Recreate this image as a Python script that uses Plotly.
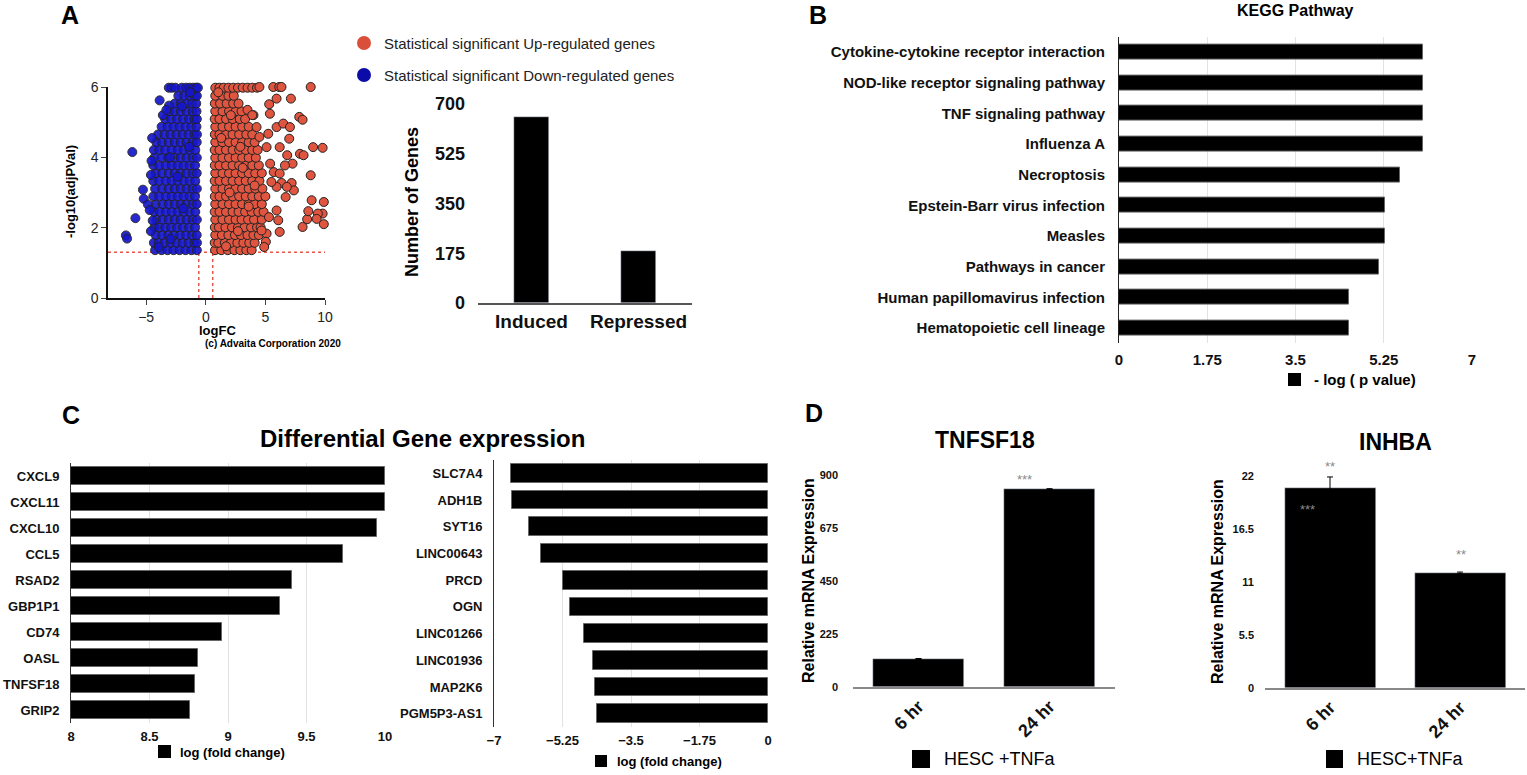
import plotly.graph_objects as go

W, H = 1527, 775
FONT = "Liberation Sans, Arial, sans-serif"

# ---------------- Panel A: volcano plot ----------------
# rows of points: (-log10 adjPVal, [logFC, ...])
blue_rows = [
    (1.36, [-4.25, -3.7, -3.2, -2.7, -2.2, -1.7, -1.2, -0.75]),
    (1.57, [-4.35, -3.95, -3.45, -2.95, -2.45, -1.95, -1.45, -0.95, -0.74]),
    (1.79, [-4.2, -3.65, -3.15, -2.65, -2.15, -1.65, -1.15, -0.76]),
    (2.01, [-4.3, -3.9, -3.4, -2.9, -2.4, -1.9, -1.4, -0.9]),
    (2.23, [-4.15, -3.6, -3.1, -2.6, -2.1, -1.6, -1.1, -0.75]),
    (2.45, [-4.35, -3.85, -3.35, -2.85, -2.35, -1.85, -1.35, -0.88]),
    (2.67, [-4.2, -3.6, -3.1, -2.6, -2.1, -1.6, -1.1, -0.76]),
    (2.89, [-4.4, -3.9, -3.35, -2.85, -2.35, -1.85, -1.35, -0.9]),
    (3.11, [-4.25, -3.65, -3.1, -2.6, -2.1, -1.6, -1.1, -0.75]),
    (3.33, [-4.4, -3.9, -3.35, -2.85, -2.35, -1.85, -1.35, -0.88]),
    (3.55, [-4.2, -3.65, -3.1, -2.6, -2.1, -1.6, -1.1, -0.76]),
    (3.77, [-4.4, -3.9, -3.35, -2.85, -2.35, -1.85, -1.35, -0.9]),
    (3.99, [-4.3, -3.7, -3.15, -2.6, -2.1, -1.6, -1.1, -0.75]),
    (4.21, [-4.35, -3.9, -3.4, -2.85, -2.35, -1.85, -1.35, -0.88]),
    (4.43, [-4.15, -3.65, -3.1, -2.6, -2.1, -1.6, -1.1, -0.76]),
    (4.65, [-4.0, -3.45, -2.95, -2.45, -1.95, -1.45, -0.95, -0.74]),
    (4.87, [-3.7, -3.2, -2.7, -2.2, -1.7, -1.2, -0.78]),
    (5.09, [-3.4, -2.9, -2.4, -1.9, -1.4, -0.95, -0.75]),
    (5.31, [-3.05, -2.6, -2.1, -1.6, -1.1, -0.78]),
    (5.53, [-2.6, -2.1, -1.6, -1.15, -0.8]),
    (5.75, [-2.3, -1.8, -1.35, -0.92, -0.75]),
    (5.98, [-3.1, -2.85, -2.55, -2.0, -1.65, -1.35, -1.05, -0.8, -0.66]),
]
blue_extra = [(-6.7, 1.78), (-6.6, 1.69), (-5.9, 2.27), (-6.16, 4.15), (-5.27, 3.08),
              (-5.2, 2.82), (-4.85, 2.66), (-4.7, 2.5), (-3.87, 5.62), (-3.08, 5.47),
              (-4.6, 3.5), (-4.55, 3.9), (-4.5, 4.55), (-4.6, 1.9), (-4.45, 2.2),
              (-3.6, 5.2), (-3.3, 5.35), (-3.95, 1.45), (-2.95, 1.68), (-1.9, 2.55),
              (-2.35, 3.45), (-1.4, 4.3), (-3.0, 4.0), (-2.0, 5.45), (-1.3, 5.85)]

red_rows = [
    (1.36, [0.78, 1.3, 1.85, 2.4, 2.9, 3.4, 3.85]),
    (1.57, [0.75, 1.05, 1.6, 2.1, 2.65, 3.15, 3.65, 4.1]),
    (1.79, [0.8, 1.35, 1.9, 2.45, 2.95, 3.5, 4.0, 4.45]),
    (2.01, [0.76, 1.1, 1.65, 2.2, 2.7, 3.25, 3.8, 4.3, 4.6]),
    (2.23, [0.8, 1.4, 1.95, 2.5, 3.0, 3.55, 4.05, 4.7]),
    (2.45, [0.75, 1.15, 1.7, 2.25, 2.75, 3.3, 3.85, 4.4, 4.85]),
    (2.67, [0.8, 1.4, 1.95, 2.5, 3.05, 3.6, 4.1, 4.7]),
    (2.89, [0.76, 1.15, 1.7, 2.25, 2.8, 3.35, 3.9, 4.45, 5.0]),
    (3.11, [0.8, 1.4, 1.95, 2.5, 3.05, 3.6, 4.15, 4.75]),
    (3.33, [0.75, 1.15, 1.7, 2.25, 2.8, 3.35, 3.9, 4.5]),
    (3.55, [0.8, 1.4, 1.95, 2.5, 3.05, 3.6, 4.15, 4.7]),
    (3.77, [0.76, 1.15, 1.7, 2.25, 2.8, 3.35, 3.9, 4.45]),
    (3.99, [0.8, 1.4, 1.95, 2.5, 3.05, 3.6, 4.2]),
    (4.21, [0.75, 1.15, 1.7, 2.25, 2.8, 3.35, 3.9, 4.35]),
    (4.43, [0.8, 1.4, 1.95, 2.5, 3.05, 3.6, 4.1]),
    (4.65, [0.76, 1.15, 1.7, 2.25, 2.8, 3.4, 3.9]),
    (4.87, [0.8, 1.4, 1.95, 2.5, 3.05, 3.6]),
    (5.09, [0.75, 1.15, 1.7, 2.25, 2.85, 3.3]),
    (5.31, [0.8, 1.4, 1.95, 2.5, 3.0]),
    (5.53, [0.76, 1.2, 1.75, 2.3, 2.75]),
    (5.75, [0.8, 1.4, 1.9, 2.35]),
    (5.98, [0.8, 1.15, 1.5, 1.9, 2.3, 2.7, 3.1, 3.5, 3.9, 4.3]),
]
red_extra = [(5.94, 5.67), (7.14, 5.67), (5.32, 5.51), (5.38, 5.24), (5.94, 4.86),
             (6.5, 4.96), (7.06, 4.86), (7.84, 5.15), (8.12, 5.07), (7.0, 4.53),
             (6.2, 4.29), (6.83, 4.06), (7.9, 4.1), (8.2, 4.06), (9.0, 4.29),
             (9.8, 4.27), (7.28, 3.82), (6.64, 3.77), (8.8, 3.49), (6.36, 3.27),
             (7.2, 3.27), (7.39, 3.06), (8.88, 2.78), (9.9, 2.73), (9.8, 2.4),
             (9.4, 2.4), (9.9, 2.1), (8.12, 2.02), (8.5, 2.24), (8.6, 2.47),
             (9.3, 2.25), (6.2, 1.88), (5.94, 2.49), (6.08, 2.21), (5.1, 1.83),
             (5.04, 1.6), (4.9, 1.45), (4.68, 1.92), (5.3, 2.3), (5.94, 3.16),
             (6.8, 3.16), (6.7, 2.87), (5.5, 3.3), (5.7, 3.58), (6.2, 3.54),
             (5.4, 3.82), (5.24, 4.67), (4.5, 4.58), (5.1, 4.29), (4.26, 4.86),
             (4.0, 5.2), (5.66, 6.0), (6.16, 6.0), (6.35, 6.0), (8.8, 6.0),
             (4.5, 6.0), (3.5, 5.35), (3.9, 5.2), (1.7, 1.47), (2.7, 1.9),
             (3.6, 2.6), (2.0, 3.0), (3.1, 3.7), (1.3, 4.55), (2.9, 4.3),
             (2.1, 5.2), (1.05, 5.85), (4.1, 3.2)]

# ---------------- Panel A: gene counts ----------------
count_cats = ["Induced", "Repressed"]
count_vals = [654, 183]

# ---------------- Panel B: KEGG ----------------
kegg_terms = ["Cytokine-cytokine receptor interaction", "NOD-like receptor signaling pathway",
              "TNF signaling pathway", "Influenza A", "Necroptosis",
              "Epstein-Barr virus infection", "Measles", "Pathways in cancer",
              "Human papillomavirus infection", "Hematopoietic cell lineage"]
kegg_vals = [6.03, 6.03, 6.03, 6.03, 5.58, 5.27, 5.27, 5.16, 4.57, 4.57]

# ---------------- Panel C ----------------
up_genes = ["CXCL9", "CXCL11", "CXCL10", "CCL5", "RSAD2", "GBP1P1", "CD74", "OASL", "TNFSF18", "GRIP2"]
up_vals = [10.0, 10.0, 9.95, 9.73, 9.41, 9.33, 8.96, 8.81, 8.79, 8.76]
down_genes = ["SLC7A4", "ADH1B", "SYT16", "LINC00643", "PRCD", "OGN", "LINC01266", "LINC01936",
              "MAP2K6", "PGM5P3-AS1"]
down_vals = [-6.57, -6.53, -6.10, -5.81, -5.24, -5.06, -4.71, -4.48, -4.42, -4.36]

# ---------------- Panel D ----------------
times = ["6 hr", "24 hr"]
tnfsf18_vals = [119, 840]
tnfsf18_err = [2, 2]
inhba_vals = [20.75, 11.93]
inhba_err = [1.15, 0.1]


def xd(a, b):
    return [a / W, b / W]


def yd(top, bottom):
    return [1 - bottom / H, 1 - top / H]


def txt(s, px, py, size, weight="bold", color="#000", xanchor="center", angle=0):
    return dict(text=s, x=px / W, y=1 - py / H, xref="paper", yref="paper", showarrow=False,
                xanchor=xanchor, yanchor="middle", textangle=angle,
                font=dict(size=size, color=color, family=FONT, weight=weight))


def square(x0, y0, x1, y1, color="black", kind="rect"):
    return dict(type=kind, xref="paper", yref="paper", x0=x0 / W, x1=x1 / W,
                y0=1 - y1 / H, y1=1 - y0 / H, fillcolor=color, line_width=0)


def unpack(rows, extra):
    xs, ys = [], []
    for yv, xv in rows:
        for v in xv:
            xs.append(v)
            ys.append(yv)
    for xv, yv in extra:
        xs.append(xv)
        ys.append(yv)
    return xs, ys


red_x, red_y = unpack(red_rows, red_extra)
blue_x, blue_y = unpack(blue_rows, blue_extra)

fig = go.Figure()
fig.add_trace(go.Scatter(x=red_x, y=red_y, mode="markers", cliponaxis=False,
                         marker=dict(size=9, color="#e0553f", line=dict(color="#222", width=1)),
                         xaxis="x", yaxis="y"))
fig.add_trace(go.Scatter(x=blue_x, y=blue_y, mode="markers", cliponaxis=False,
                         marker=dict(size=9, color="#1616cc", opacity=0.92,
                                     line=dict(color="#222", width=1)),
                         xaxis="x", yaxis="y"))

fig.add_trace(go.Bar(x=count_cats, y=count_vals, width=0.32, marker_color="black",
                     xaxis="x2", yaxis="y2"))

fig.add_trace(go.Bar(x=kegg_vals, y=kegg_terms, orientation="h", width=0.49,
                     marker=dict(color="black", line=dict(color="#666", width=1)),
                     xaxis="x3", yaxis="y3"))

fig.add_trace(go.Bar(x=up_vals, y=up_genes, orientation="h", width=0.7,
                     marker=dict(color="black", line=dict(color="#666", width=1)),
                     xaxis="x4", yaxis="y4"))
fig.add_trace(go.Bar(x=down_vals, y=down_genes, orientation="h", width=0.7,
                     marker=dict(color="black", line=dict(color="#666", width=1)),
                     xaxis="x5", yaxis="y5"))

fig.add_trace(go.Bar(x=times, y=tnfsf18_vals, width=0.7, marker_color="black",
                     error_y=dict(type="data", array=tnfsf18_err, color="black", thickness=1, width=3),
                     xaxis="x6", yaxis="y6"))
fig.add_trace(go.Bar(x=times, y=inhba_vals, width=0.7, marker_color="black",
                     error_y=dict(type="data", array=inhba_err, color="black", thickness=1, width=3),
                     xaxis="x7", yaxis="y7"))

bold = lambda s: dict(size=s, family=FONT, color="#111", weight="bold")

fig.update_layout(
    width=W, height=H, margin=dict(l=0, r=0, t=0, b=0, autoexpand=False),
    paper_bgcolor="white", plot_bgcolor="white", showlegend=False, bargap=0,
    font=dict(family=FONT, color="#111"),
    # volcano
    xaxis=dict(domain=xd(108, 325), range=[-8.2, 10], tickvals=[-5, 0, 5, 10],
               ticks="outside", ticklen=5, showline=True, linecolor="#111", linewidth=1.5,
               showgrid=False, zeroline=False, tickfont=dict(size=14, family=FONT, color="#222"),
               anchor="y"),
    yaxis=dict(domain=yd(87, 298), range=[0, 6], tickvals=[0, 2, 4, 6],
               ticks="outside", ticklen=5, showline=True, linecolor="#111", linewidth=1.5,
               showgrid=False, zeroline=False, tickfont=dict(size=14, family=FONT, color="#222"),
               anchor="x"),
    # gene counts
    xaxis2=dict(domain=xd(478, 692), range=[-0.5, 1.5], showline=True, linecolor="#555",
                linewidth=1.5, showgrid=False, tickfont=bold(19), anchor="y2"),
    yaxis2=dict(domain=yd(104, 303), range=[0, 700], tickvals=[0, 175, 350, 525, 700],
                showline=False, showgrid=False, zeroline=False, tickfont=bold(18),
                ticklabelstandoff=12, anchor="x2"),
    # KEGG
    xaxis3=dict(domain=xd(1119, 1472), range=[0, 7], tickvals=[0, 1.75, 3.5, 5.25, 7],
                showgrid=True, gridcolor="#e2e2e2", zeroline=False, showline=False,
                tickfont=bold(15), ticklabelstandoff=6, anchor="y3"),
    yaxis3=dict(domain=yd(36.6, 343.4), autorange="reversed", showline=True, linecolor="#222",
                linewidth=1, tickfont=bold(15), ticklabelstandoff=10, anchor="x3"),
    # Differential expression, up
    xaxis4=dict(domain=xd(71, 385), range=[8, 10], tickvals=[8, 8.5, 9, 9.5, 10],
                showgrid=True, gridcolor="#e2e2e2", zeroline=False, showline=False,
                tickfont=bold(13), ticklabelstandoff=4, anchor="y4"),
    yaxis4=dict(domain=yd(463, 723), autorange="reversed", showline=True, linecolor="#333",
                linewidth=1, tickfont=bold(13), ticklabelstandoff=8, anchor="x4"),
    # Differential expression, down
    xaxis5=dict(domain=xd(494, 768), range=[-7, 0], tickvals=[-7, -5.25, -3.5, -1.75, 0],
                showgrid=True, gridcolor="#e2e2e2", zeroline=False, showline=False,
                tickfont=bold(13), ticklabelstandoff=4, anchor="y5"),
    yaxis5=dict(domain=yd(460, 727), autorange="reversed", showline=True, linecolor="#333",
                linewidth=1, tickfont=bold(13), ticklabelstandoff=8, anchor="x5"),
    # TNFSF18
    xaxis6=dict(domain=xd(853, 1115), range=[-0.5, 1.5], showline=True, linecolor="#888",
                linewidth=1.5, showgrid=False, tickangle=-45, tickfont=bold(18), anchor="y6"),
    yaxis6=dict(domain=yd(475, 687), range=[0, 900], tickvals=[0, 225, 450, 675, 900],
                showline=False, showgrid=False, zeroline=False, tickfont=bold(11),
                ticklabelstandoff=14, anchor="x6"),
    # INHBA
    xaxis7=dict(domain=xd(1265, 1525), range=[-0.5, 1.5], showline=True, linecolor="#888",
                linewidth=1.5, showgrid=False, tickangle=-45, tickfont=bold(18), anchor="y7"),
    yaxis7=dict(domain=yd(476, 688), range=[0, 22], tickvals=[0, 5.5, 11, 16.5, 22],
                showline=False, showgrid=False, zeroline=False, tickfont=bold(11),
                ticklabelstandoff=10, anchor="x7"),
)
fig.update_xaxes(automargin=False)
fig.update_yaxes(automargin=False)

# threshold lines in the volcano plot
dot = dict(color="#e8564a", width=1.5, dash="dot")
shapes = [
    dict(type="line", xref="x", yref="y", x0=-8.2, x1=10, y0=1.301, y1=1.301, line=dot, layer="below"),
    dict(type="line", xref="x", yref="y", x0=-0.585, x1=-0.585, y0=0, y1=6, line=dot, layer="below"),
    dict(type="line", xref="x", yref="y", x0=0.585, x1=0.585, y0=0, y1=6, line=dot, layer="below"),
    # legend markers
    square(357, 36, 371, 50, "#d94f3a", "circle"),
    square(357, 68, 371, 82, "#0b0ba8", "circle"),
    square(1288, 373, 1301, 386),
    square(158, 745, 171, 758),
    square(595, 755, 607, 767),
    square(912, 750, 930, 768),
    square(1326, 750, 1343, 768),
]

annotations = [
    txt("A", 70, 15, 25),
    txt("B", 818, 15, 25),
    txt("C", 71, 415, 25),
    txt("D", 814, 413, 25),
    # panel A
    txt("Statistical significant Up-regulated genes", 382, 44, 15, weight="normal", color="#222", xanchor="left"),
    txt("Statistical significant Down-regulated genes", 382, 75, 15, weight="normal", color="#222", xanchor="left"),
    txt("-log10(adjPVal)", 70, 192, 13, angle=-90),
    txt("logFC", 217, 330, 13),
    txt("(c) Advaita Corporation 2020", 273, 343, 10),
    txt("Number of Genes", 412, 202, 18, angle=-90),
    # panel B
    txt("KEGG Pathway", 1295, 10, 16),
    txt("- log ( p value)", 1312, 380, 15, xanchor="left"),
    # panel C
    txt("Differential Gene expression", 422, 438, 24),
    txt("log (fold change)", 178, 752, 13, xanchor="left"),
    txt("log (fold change)", 615, 761, 13, xanchor="left"),
    # panel D
    txt("TNFSF18", 985, 440, 23),
    txt("INHBA", 1395, 442, 23),
    txt("Relative mRNA Expression", 808, 581, 16, angle=-90),
    txt("Relative mRNA Expression", 1217, 582, 16, angle=-90),
    txt("HESC +TNFa", 942, 759, 18, weight="normal", xanchor="left"),
    txt("HESC+TNFa", 1355, 759, 18, weight="normal", xanchor="left"),
    txt("***", 1024, 479, 13, weight="normal", color="#8a8a8a"),
    txt("**", 1330, 466, 13, weight="normal", color="#8a8a8a"),
    txt("***", 1307, 509, 13, weight="normal", color="#8a8a8a"),
    txt("**", 1461, 554, 13, weight="normal", color="#8a8a8a"),
]

fig.update_layout(shapes=shapes, annotations=annotations)
# the page body has a default 8px margin; remove it so the figure sits at the corner
fig.write_html("out.html", config={"displayModeBar": False},
               post_script="document.body.style.margin='0';document.body.style.overflow='hidden';")
